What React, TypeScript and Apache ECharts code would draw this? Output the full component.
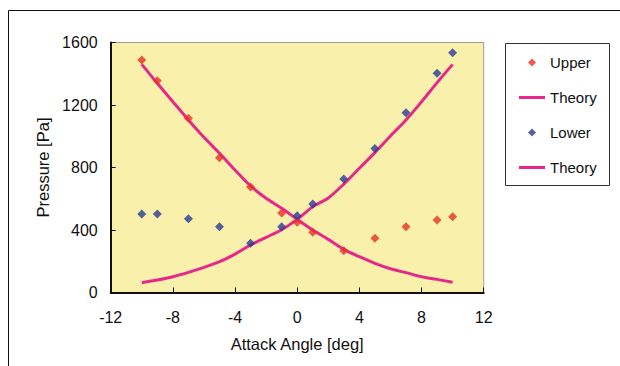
import React, { useEffect, useRef } from "react";
import * as echarts from "echarts";

const angles = [-10, -9, -7, -5, -3, -1, 0, 1, 3, 5, 7, 9, 10];
const upperValues = [1488, 1356, 1115, 863, 675, 509, 449, 385, 268, 347, 421, 464, 485];
const lowerValues = [502, 502, 472, 421, 315, 421, 492, 566, 726, 921, 1151, 1403, 1535];

const theoryAngles = [-10, -9, -8, -7, -6, -5, -4, -3, -2, -1, 0, 1, 2, 3, 4, 5, 6, 7, 8, 9, 10];
const upperTheory = [1460, 1339, 1221, 1104, 993, 891, 784, 682, 603, 539, 468, 400, 340, 276, 229, 187, 152, 127, 101, 84, 65];
const lowerTheory = [63, 80, 101, 129, 161, 197, 246, 304, 353, 402, 468, 549, 605, 694, 795, 895, 1002, 1104, 1221, 1343, 1460];

const xTicks = { min: -12, max: 12, interval: 4 };
const yTicks = { min: 0, max: 1600, interval: 400 };

const FONT = "Liberation Sans";
const RED = "#E8302A";
const BLUE = "#2B3A94";
const MAGENTA = "#E6288C";

const DIAMOND_ICON = "path://M0,0M26,8M13,0L17,4L13,8L9,4Z";
const LINE_ICON = "path://M0,0M26,8M0,2.5L26,2.5L26,5.5L0,5.5Z";

export default function App() {
  const ref = useRef<HTMLDivElement>(null);
  useEffect(() => {
    if (!ref.current) return;
    const chart = echarts.init(ref.current, null, { renderer: "svg" });
    const zip = (xs: number[], ys: number[]) => xs.map((x, i) => [x, ys[i]]);
    chart.setOption({
      animation: false,
      backgroundColor: "#ffffff",
      textStyle: { fontFamily: FONT },
      grid: {
        left: 110.7,
        top: 42.5,
        width: 373,
        height: 250,
        show: true,
        backgroundColor: "#F9F0AC",
        borderColor: "#9a9a9a",
        borderWidth: 1,
      },
      xAxis: {
        type: "value",
        ...xTicks,
        name: "Attack Angle [deg]",
        nameLocation: "middle",
        nameGap: 43,
        nameTextStyle: { fontFamily: FONT, fontSize: 16.5, color: "#111" },
        axisLine: { show: true, onZero: false, lineStyle: { color: "#111", width: 2 } },
        axisTick: { show: true, inside: true, length: 5, lineStyle: { color: "#111" } },
        axisLabel: { fontFamily: FONT, fontSize: 16, color: "#111", margin: 17 },
        splitLine: { show: false },
      },
      yAxis: {
        type: "value",
        ...yTicks,
        name: "Pressure [Pa]",
        nameLocation: "middle",
        nameGap: 51,
        nameTextStyle: { fontFamily: FONT, fontSize: 16.5, color: "#111" },
        axisLine: { show: true, onZero: false, lineStyle: { color: "#111", width: 2 } },
        axisTick: { show: true, inside: true, length: 5, lineStyle: { color: "#111" } },
        axisLabel: {
          fontFamily: FONT,
          fontSize: 16,
          color: "#111",
          margin: 13,
          formatter: (v: number) => String(v),
        },
        splitLine: { show: false },
      },
      legend: {
        orient: "vertical",
        left: 519,
        top: 55,
        itemWidth: 26,
        itemHeight: 8,
        itemGap: 20,
        padding: 0,
        formatter: (name: string) => (name.startsWith("Theory") ? "Theory" : name),
        textStyle: { fontFamily: FONT, fontSize: 15, color: "#111", lineHeight: 14 },
        data: [
          { name: "Upper", icon: DIAMOND_ICON },
          { name: "Theory1", icon: LINE_ICON },
          { name: "Lower", icon: DIAMOND_ICON },
          { name: "Theory2", icon: LINE_ICON },
        ],
      },
      graphic: [
        {
          type: "polyline",
          shape: { points: [[8.5, 366], [8.5, 10.5], [620, 10.5]] },
          style: { stroke: "#111", lineWidth: 1, fill: "none" },
          silent: true,
        },
        {
          type: "rect",
          shape: { x: 505.5, y: 43.5, width: 104, height: 142 },
          style: { stroke: "#333", lineWidth: 1, fill: "#fff" },
          silent: true,
          z: -1,
        },
      ],
      series: [
        {
          name: "Theory1",
          type: "line",
          data: zip(theoryAngles, upperTheory),
          symbol: "none",
          smooth: 0.3,
          lineStyle: { color: MAGENTA, width: 3 },
          itemStyle: { color: MAGENTA },
          z: 2,
        },
        {
          name: "Theory2",
          type: "line",
          data: zip(theoryAngles, lowerTheory),
          symbol: "none",
          smooth: 0.3,
          lineStyle: { color: MAGENTA, width: 3 },
          itemStyle: { color: MAGENTA },
          z: 2,
        },
        {
          name: "Upper",
          type: "scatter",
          data: zip(angles, upperValues),
          symbol: "diamond",
          symbolSize: 9,
          itemStyle: { color: RED },
          z: 3,
        },
        {
          name: "Lower",
          type: "scatter",
          data: zip(angles, lowerValues),
          symbol: "diamond",
          symbolSize: 9,
          itemStyle: { color: BLUE },
          z: 3,
        },
      ],
    });
    return () => chart.dispose();
  }, []);
  return (
    <div
      ref={ref}
      style={{ position: "fixed", left: 0, top: 0, width: 620, height: 366 }}
    />
  );
}
